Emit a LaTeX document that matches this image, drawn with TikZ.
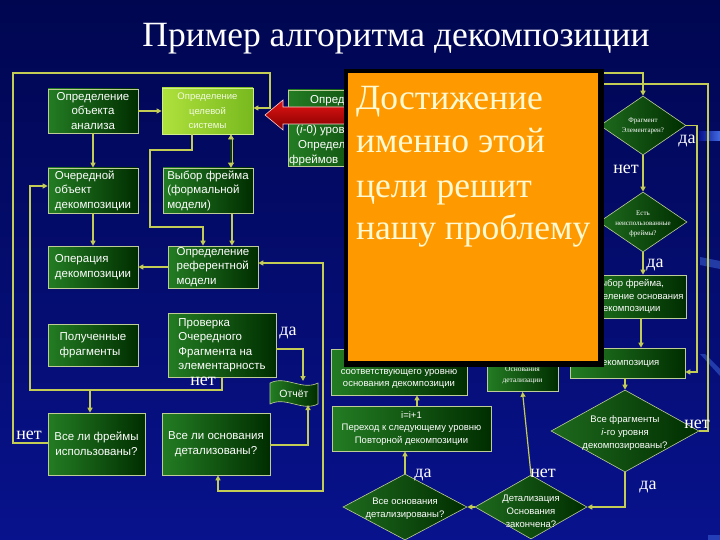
\documentclass[tikz,border=0pt]{standalone}
\usepackage{fontspec}
\setmainfont{Liberation Serif}
\setsansfont{Liberation Sans}
\usetikzlibrary{shapes.geometric,arrows.meta}
\definecolor{bgtop}{RGB}{0,6,80}
\definecolor{bgbot}{RGB}{8,18,140}
\definecolor{ln}{RGB}{195,205,85}
\definecolor{bd}{RGB}{190,205,150}
\definecolor{gl}{RGB}{35,125,35}
\definecolor{gd}{RGB}{0,45,0}
\definecolor{gll}{RGB}{175,225,60}
\definecolor{gld}{RGB}{120,185,30}
\definecolor{orng}{RGB}{255,153,0}
\definecolor{cream}{RGB}{255,250,210}
\definecolor{redl}{RGB}{230,20,20}
\definecolor{redd}{RGB}{130,0,0}
\definecolor{glow}{RGB}{80,130,250}
\tikzset{
  box/.style={draw=bd, line width=0.6pt, left color=gl, right color=gd, inner sep=0pt,
    text=white, font=\sffamily\fontsize{11.5}{14.5}\selectfont},
  gbox/.style={draw=gll!60!white, line width=0.8pt, left color=gll, right color=gld, inner sep=0pt,
    text=white!85!gll, align=center, font=\sffamily\fontsize{9.5}{14.5}\selectfont},
  sfont/.style={font=\sffamily\fontsize{9.5}{12.5}\selectfont},
  tiny/.style={font=\fontsize{7}{10}\selectfont, text=white, align=center},
  dia/.style={diamond, draw=bd, line width=0.6pt, left color=gl!85!black, right color=gd, inner sep=0pt},
  dtext/.style={text=white, align=center, font=\sffamily\fontsize{9.5}{13}\selectfont},
  con/.style={draw=ln, line width=1.2pt},
  arr/.style={con, -{Triangle[width=5pt,length=5pt]}},
  lab/.style={text=white, font=\fontsize{18}{18}\selectfont, inner sep=0pt},
  otext/.style={text=cream, font=\fontsize{35.5}{43}\selectfont, inner sep=0pt, anchor=base west},
  btxt/.style={text=white, font=\sffamily\fontsize{11.5}{14}\selectfont, inner sep=0pt, anchor=west},
  glowfill/.style={fill=glow, opacity=0.4}
}
\begin{document}
\begin{tikzpicture}[x=1pt,y=-1pt]
\useasboundingbox (0,0) rectangle (720,540);
\shade[top color=bgtop, bottom color=bgbot] (0,0) rectangle (720,540);

% light streaks at the right edge
\shade[left color=bgbot, right color=glow!80!bgbot] (699,132) rectangle (720,141);
\fill[glowfill] (700,257) -- (720,261) -- (720,269) -- (700,265) -- cycle;
\fill[glowfill] (700,354) -- (705,354) -- (720,369) -- (720,376) -- cycle;
\fill[glowfill] (708,535) rectangle (720,540);

% title
\node[text=white, font=\fontsize{35.5}{36}\selectfont, anchor=base, inner sep=0pt] (title) at (396,47) {Пример алгоритма декомпозиции};

% box partly hidden behind the orange panel
\node[box, minimum width=132, minimum height=76] (b0) at (354,128) {};
\node[btxt] (b0a) at (310,101) {Опред};
\node[btxt] (b0b) at (335,116) {ан};
\node[btxt] (b0c) at (296,131) {(\textit{i}-0) уров};
\node[btxt] (b0d) at (298,146) {Определ};
\node[btxt] (b0e) at (289,160) {фреймов};

% left and middle boxes
\node[box, minimum width=90, minimum height=44, align=center] (b1) at (93,111) {Определение\\объекта\\анализа};
\node[gbox, minimum width=91, minimum height=46] (b2) at (207.5,111) {Определение\\целевой\\системы};
\node[box, minimum width=90, minimum height=45, align=left] (b3) at (93,190.5) {Очередной\\объект\\декомпозиции};
\node[box, minimum width=90, minimum height=45, align=left] (b6) at (208,190.5) {Выбор фрейма\\(формальной\\модели)};
\node[box, minimum width=90, minimum height=42, align=left] (b4) at (93,267) {Операция\\декомпозиции};
\node[box, minimum width=90, minimum height=42, align=left] (b7) at (213,267) {Определение\\референтной\\модели};
\node[box, minimum width=90, minimum height=42, align=left] (b5) at (93,345) {Полученные\\фрагменты};
\node[box, minimum width=108, minimum height=64, align=left] (b8) at (222,345) {Проверка\\Очередного\\Фрагмента на\\элементарность};
\node[box, minimum width=97, minimum height=62, align=center] (b9) at (96.5,444) {Все ли фреймы\\использованы?};
\node[box, minimum width=108, minimum height=62, align=center] (b10) at (216,444) {Все ли основания\\детализованы?};

% report shape
\draw[draw=bd, line width=0.6pt, left color=gl, right color=gd]
  (270,383) .. controls (286,375) and (302,391) .. (318,383) -- (318,404)
  .. controls (302,412) and (286,396) .. (270,404) -- cycle;
\node[text=white, font=\sffamily\fontsize{10.5}{12}\selectfont] (otchet) at (294,393.5) {Отчёт};
\coordinate (ottop) at (303,381);
\coordinate (otbot) at (308,405);

% right-side boxes
\node[box, sfont, minimum width=114, minimum height=43, align=center] (b11) at (629,296.5) {Выбор фрейма,\\Определение основания\\декомпозиции};
\node[box, sfont, minimum width=115, minimum height=30] (b12) at (627.5,363) {Декомпозиция};
\node[box, minimum width=136, minimum height=46] (b15) at (399,372) {};
\node[text=white, sfont, align=center] (b15t) at (399,379) {соответствующего уровню\\основания декомпозиции};
\node[box, minimum width=71, minimum height=33, font=\fontsize{7.5}{11}\selectfont, align=center] (b13) at (522.5,375) {Основания\\детализации};
\node[box, font=\sffamily\fontsize{9.5}{12.5}\selectfont, minimum width=159, minimum height=45, align=center] (b14) at (411.5,428.5) {i=i+1\\Переход к следующему уровню\\Повторной декомпозиции};

% diamonds
\node[dia, minimum width=86, minimum height=59] (d1) at (643,125.5) {};
\node[tiny] (d1t) at (643,126) {Фрагмент\\Элементарен?};
\node[dia, minimum width=88, minimum height=60] (d2) at (643,222) {};
\node[tiny] (d2t) at (643,224) {Есть\\неиспользованные\\фреймы?};
\node[dia, minimum width=148, minimum height=82] (d3) at (625,431) {};
\node[dtext] (d3t) at (625,433) {Все фрагменты\\\textit{i}-го уровня\\декомпозированы?};
\node[dia, minimum width=112, minimum height=64] (d4) at (531,507) {};
\node[dtext] (d4t) at (531,511) {Детализация\\Основания\\закончена?};
\node[dia, minimum width=124, minimum height=66] (d5) at (405,507) {};
\node[dtext] (d5t) at (405,509) {Все основания\\детализированы?};

% connectors left/middle
\draw[arr] (b1) -- (b2);
\draw[arr] (b1) -- (b3);
\draw[arr] (b3) -- (b4);
\draw[con, double=gl!40!black, double distance=1.6pt, line width=0.7pt, {Triangle[width=6pt,length=5pt]}-{Triangle[width=6pt,length=5pt]}]
  ([xshift=23.5pt]b2.south) -- ([xshift=23pt]b6.north);
\draw[arr] ([xshift=-15.5pt]b2.south) |- (150,150) -- (150,227) -| ([xshift=-10pt]b7.north);
\draw[arr] ([xshift=24pt]b6.south) -- ([xshift=19pt]b7.north);
\draw[arr] (b7) -- (b4);
\draw[con, {Triangle[width=5pt,length=5pt]}-{Triangle[width=5pt,length=5pt]}]
  ([yshift=4pt]b7.east) -| (323,491) -| ([xshift=2pt]b10.south);
\draw[arr] ([yshift=-4pt]b8.east) -| (ottop);
\draw[arr] (b8.south) |- (30,390) |- ([yshift=4.5pt]b3.west);
\coordinate (j1) at (90,390);
\draw[arr] (j1) -- ([xshift=-6.5pt]b9.north);
\draw[arr] ([yshift=-1pt]b10.east) -| (otbot);
\draw[arr] ([yshift=1pt]b9.west) -| (13,73) -| (270,108) -- ([yshift=3pt]b2.east);

% connectors right
\coordinate (h1) at (560,73);
\coordinate (h2) at (560,84);
\draw[arr] (h1) -| (d1.north);
\draw[arr] (d1.east) -| (697,372) -- ([yshift=-9pt]b12.east);
\draw[arr] (d1) -- (d2);
\draw[arr] (d2.south) -- (d2.south |- b11.north);
\draw[arr] ([xshift=12pt]b11.south) -- ([xshift=12pt]b11.south |- b12.north);
\draw[arr] (b12.south -| d3.north) -- (d3.north);
\draw[con] (d3.east) -| (708,84) -- (h2);
\draw[arr] (d3.south) |- (d4.east);
\draw[arr] (d4.north) -- (b13.south);
\draw[arr] (d4.west) -- (d5.east);
\draw[arr] (d5.north) -- (d5.north |- b14.south);
\draw[arr] ([xshift=5.5pt]b14.north) -- ([xshift=5.5pt]b14.north |- b15.south);

% red block arrow
\draw[draw=white!80!red, line width=0.6pt, top color=redl, bottom color=redd]
  (265,115) -- (283,100) -- (283,107) -- (350,107) -- (350,124) -- (283,124) -- (283,130) -- cycle;

% orange overlay
\fill[black] (344,69) rectangle (604,367);
\fill[orng] (348,73) rectangle (598,361);
\node[otext] (o1) at (356,110) {Достижение};
\node[otext] (o2) at (356,153) {именно этой};
\node[otext] (o3) at (356,197) {цели решит};
\node[otext] (o4) at (356,240) {нашу проблему};

% labels
\node[lab] (l1) at (203,381) {нет};
\node[lab] (l2) at (288,333) {да};
\node[lab] (l3) at (29,435) {нет};
\node[lab] (l4) at (687,141) {да};
\node[lab] (l5) at (626,169) {нет};
\node[lab] (l6) at (655,265) {да};
\node[lab] (l7) at (697,424) {нет};
\node[lab] (l8) at (648,487) {да};
\node[lab] (l9) at (543,473) {нет};
\node[lab] (l10) at (423,475) {да};
\end{tikzpicture}
\end{document}
